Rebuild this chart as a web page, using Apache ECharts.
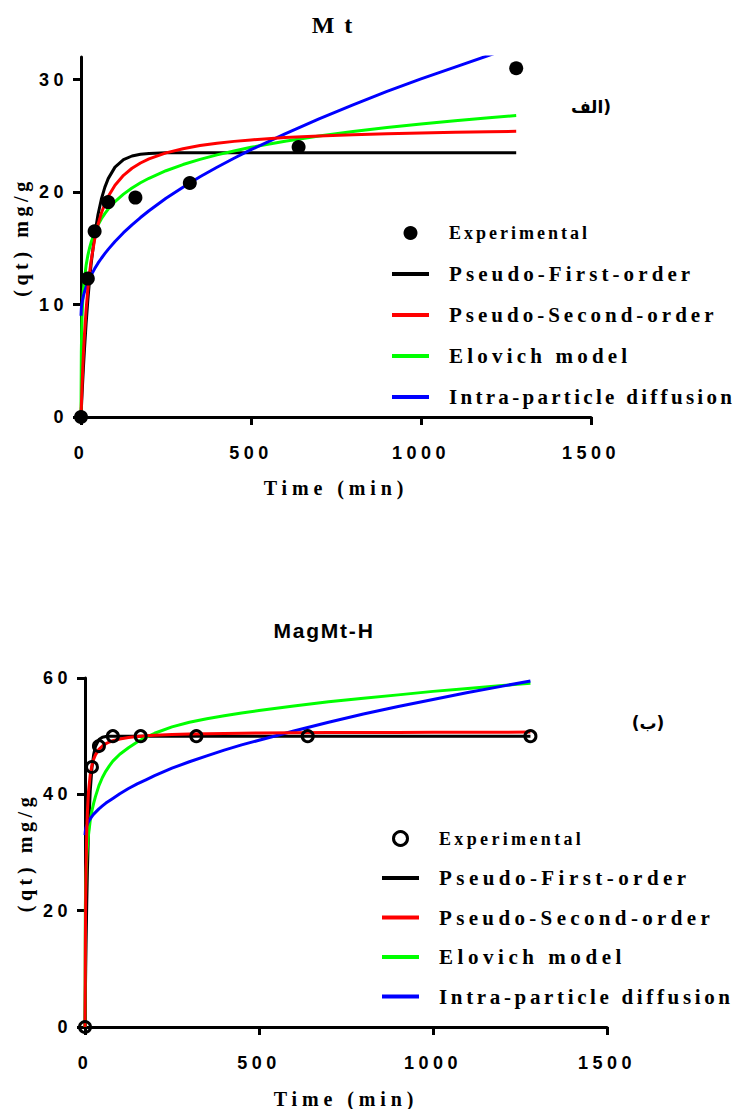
<!DOCTYPE html>
<html><head><meta charset="utf-8">
<script src="https://cdn.jsdelivr.net/npm/echarts@6/dist/echarts.min.js"></script>
<style>
html,body{margin:0;padding:0;background:#fff;width:735px;height:1109px;overflow:hidden}
#top{position:absolute;left:0;top:0;width:735px;height:560px}
#bot{position:absolute;left:0;top:560px;width:735px;height:549px}
</style>
</head><body><div id="top"></div><div id="bot"></div>
<script>
// ---------- data ----------
const seriesNames = ['Experimental','Pseudo-First-order','Pseudo-Second-order','Elovich model','Intra-particle diffusion'];
const xTicks = [0, 500, 1000, 1500];
const mtYTicks = [0, 10, 20, 30];
const magYTicks = [0, 20, 40, 60];

const expTime = [0, 20, 40, 80, 160, 320, 640, 1280];
const mtExp  = [0, 12.3, 16.5, 19.1, 19.5, 20.8, 24.0, 31.0];
const magExp = [0, 44.7, 48.3, 50.0, 50.0, 50.0, 50.0, 50.0];

const modelTime = [0, 1, 2, 3, 5, 7, 10, 15, 20, 25, 30, 40, 50, 60, 70, 80, 100, 125, 150, 175, 200, 250, 300, 350, 400, 450, 500, 600, 700, 800, 900, 1000, 1100, 1200, 1280];

const mtPFO = [0, 0.67, 1.33, 1.96, 3.17, 4.32, 5.91, 8.29, 10.34, 12.12, 13.65, 16.13, 17.99, 19.38, 20.41, 21.19, 22.21, 22.87, 23.2, 23.35, 23.43, 23.48, 23.5, 23.5, 23.5, 23.5, 23.5, 23.5, 23.5, 23.5, 23.5, 23.5, 23.5, 23.5, 23.5];
const mtPSO = [0, 0.97, 1.87, 2.7, 4.21, 5.54, 7.25, 9.54, 11.33, 12.76, 13.94, 15.76, 17.1, 18.13, 18.94, 19.6, 20.6, 21.48, 22.11, 22.58, 22.95, 23.48, 23.85, 24.13, 24.33, 24.5, 24.63, 24.84, 24.98, 25.09, 25.18, 25.25, 25.31, 25.36, 25.39];
const mtElovich = [0, 5.79, 7.65, 8.79, 10.25, 11.23, 12.28, 13.48, 14.34, 15.0, 15.55, 16.4, 17.07, 17.62, 18.08, 18.48, 19.15, 19.81, 20.36, 20.82, 21.22, 21.89, 22.44, 22.9, 23.3, 23.65, 23.97, 24.52, 24.98, 25.38, 25.73, 26.05, 26.33, 26.6, 26.79];
const mtIntra = [9.0, 9.66, 9.93, 10.14, 10.48, 10.75, 11.09, 11.56, 11.95, 12.3, 12.61, 13.17, 13.67, 14.11, 14.52, 14.9, 15.6, 16.38, 17.08, 17.73, 18.33, 19.44, 20.43, 21.35, 22.2, 23.0, 23.76, 25.17, 26.5, 27.75, 28.95, 30.05, 31.1, 32.15, 33.0];

const magPFO = [0, 5.25, 9.96, 14.16, 21.3, 27.01, 33.52, 40.54, 44.57, 46.88, 48.21, 49.41, 49.81, 49.94, 49.98, 50.0, 50.0, 50.0, 50.0, 50.0, 50.0, 50.0, 50.0, 50.0, 50.0, 50.0, 50.0, 50.0, 50.0, 50.0, 50.0, 50.0, 50.0, 50.0, 50.0];
const magPSO = [0, 14.2, 22.2, 27.33, 33.52, 37.13, 40.39, 43.35, 45.0, 46.05, 46.78, 47.73, 48.31, 48.71, 49.0, 49.21, 49.52, 49.77, 49.94, 50.06, 50.15, 50.28, 50.37, 50.43, 50.47, 50.51, 50.54, 50.58, 50.61, 50.64, 50.65, 50.67, 50.68, 50.69, 50.7];
const magElovich = [0, 20.6, 24.3, 26.5, 29.2, 31.0, 33.0, 35.5, 37.2, 38.5, 39.6, 41.5, 42.9, 44.0, 44.9, 45.7, 46.9, 48.0, 49.0, 49.8, 50.5, 51.6, 52.4, 53.0, 53.5, 54.0, 54.4, 55.2, 55.9, 56.5, 57.1, 57.7, 58.2, 58.7, 59.1];
const magIntra = [33.0, 33.7, 34.0, 34.3, 34.6, 34.9, 35.3, 35.8, 36.2, 36.6, 36.9, 37.5, 38.0, 38.5, 38.9, 39.3, 40.1, 41.0, 41.8, 42.5, 43.2, 44.5, 45.6, 46.6, 47.6, 48.5, 49.3, 50.9, 52.4, 53.8, 55.1, 56.3, 57.5, 58.6, 59.5];

// ---------- styles ----------
const lineColors = ['#000000', '#ff0000', '#00ff00', '#0000ff'];
const SERIF = 'Liberation Serif';
const SANS = 'Liberation Sans';
const spacingMap = {
  'Time (min)': 4.9, '(qt) mg/g': 4.6, 'Mt': 10, 'MagMt-H': 1.8,
  'Experimental': 3, 'Pseudo-First-order': 4.1, 'Pseudo-Second-order': 4.0,
  'Elovich model': 4.2, 'Intra-particle diffusion': 3.3
};
const legendTexts = seriesNames;

function pairs(xs, ys) { return xs.map((x, i) => [x, ys[i]]); }

function makeOption(cfg) {
  const lineData = [cfg.pfo, cfg.pso, cfg.elovich, cfg.intra];
  const series = [{
    name: seriesNames[0], type: 'scatter', data: pairs(expTime, cfg.exp),
    symbol: 'circle', symbolSize: cfg.hollow ? 11 : 14, clip: false, z: 5,
    itemStyle: cfg.hollow ? {color: 'rgba(0,0,0,0)', borderColor: '#000', borderWidth: 3, opacity: 1} : {color: '#000', opacity: 1}
  }];
  lineData.forEach((d, i) => series.push({
    name: seriesNames[i + 1], type: 'line', data: pairs(modelTime, d),
    showSymbol: false, smooth: false, clip: true, z: 2 + (i === 1 ? 1 : 0),
    color: lineColors[i], lineStyle: {color: lineColors[i], width: 3}, itemStyle: {color: lineColors[i]}
  }));
  const legendData = [{
    name: seriesNames[0], icon: 'circle',
    itemStyle: cfg.hollow ? {color: '#fff', borderColor: '#000', borderWidth: 3} : {color: '#000', borderWidth: 0},
    textStyle: {fontSize: 18}
  }];
  for (let i = 0; i < 4; i++) legendData.push({
    name: seriesNames[i + 1], icon: 'path://M0 0H37V4H0Z',
    itemStyle: {color: lineColors[i], borderWidth: 0}
  });
  const axisCommon = {
    type: 'value', splitLine: {show: false},
    axisLine: {show: true, onZero: false, lineStyle: {color: '#000', width: 3}},
    axisTick: {show: true, length: 8, lineStyle: {color: '#000', width: 3}},
    axisLabel: {color: '#000', fontFamily: SANS, fontWeight: 'bold', fontSize: 18, formatter: v => String(v)}
  };
  return {
    animation: false,
    title: [
      {text: cfg.title, left: cfg.titleX, top: cfg.titleY, textAlign: 'center', textVerticalAlign: 'middle', padding: 0,
       textStyle: {fontFamily: cfg.titleFont, fontWeight: 'bold', fontSize: cfg.titleSize, color: '#000'}},
      {text: cfg.tag, left: cfg.tagX, top: cfg.tagY, textAlign: 'center', textVerticalAlign: 'middle', padding: 0,
       textStyle: {fontFamily: 'DejaVu Sans', fontWeight: 'bold', fontSize: 17, color: '#000'}}
    ],
    grid: {left: cfg.grid[0], top: cfg.grid[1], width: cfg.grid[2], height: cfg.grid[3], containLabel: false, outerBoundsMode: 'none'},
    legend: {
      orient: 'vertical', left: cfg.legendX, top: cfg.legendY, padding: 0,
      itemWidth: 37, itemHeight: 14, itemGap: cfg.legendGap, selectedMode: false,
      textStyle: {fontFamily: SERIF, fontWeight: 'bold', fontSize: 21, color: '#000', lineHeight: 22, padding: [0, 0, 0, 15]},
      data: legendData
    },
    xAxis: Object.assign({}, axisCommon, {
      min: xTicks[0], max: xTicks[xTicks.length - 1], interval: xTicks[1] - xTicks[0],
      axisLabel: Object.assign({}, axisCommon.axisLabel, {margin: 27}),
      name: 'Time (min)', nameLocation: 'middle', nameGap: cfg.xNameGap,
      nameTextStyle: {fontFamily: SERIF, fontWeight: 'bold', fontSize: 20, color: '#000'}
    }),
    yAxis: Object.assign({}, axisCommon, {
      min: 0, max: cfg.yMax,
      axisTick: Object.assign({}, axisCommon.axisTick, {customValues: cfg.yTicks}),
      axisLabel: Object.assign({}, axisCommon.axisLabel, {margin: 13, customValues: cfg.yTicks}),
      name: '(qt) mg/g', nameLocation: 'middle', nameGap: 50,
      nameTextStyle: {fontFamily: SERIF, fontWeight: 'bold', fontSize: 20, color: '#000'}
    }),
    series: series
  };
}

function applySpacing(dom, legendExtra) {
  dom.querySelectorAll('text').forEach(t => {
    const s = t.textContent;
    if (spacingMap[s] != null) {
      const extra = legendTexts.indexOf(s) >= 0 ? legendExtra : 0;
      t.setAttribute('letter-spacing', spacingMap[s] + extra);
    } else if (/^\d+$/.test(s)) t.setAttribute('letter-spacing', 4.5);
  });
}

const cfgTop = {
  exp: mtExp, pfo: mtPFO, pso: mtPSO, elovich: mtElovich, intra: mtIntra, hollow: false,
  title: 'Mt', titleX: 337, titleY: 25, titleFont: SERIF, titleSize: 24,
  tag: 'الف)', tagX: 591, tagY: 107,
  grid: [81, 57, 510, 360], legendX: 392, legendY: 222, legendGap: 19,
  yMax: 32, yTicks: mtYTicks, xNameGap: 61, legendExtra: 0
};
const cfgBot = {
  exp: magExp, pfo: magPFO, pso: magPSO, elovich: magElovich, intra: magIntra, hollow: true,
  title: 'MagMt-H', titleX: 324, titleY: 70, titleFont: SANS, titleSize: 21,
  tag: '(ب)', tagX: 648, tagY: 163,
  grid: [85, 118, 522, 349], legendX: 382, legendY: 267.5, legendGap: 17.5,
  yMax: 60, yTicks: magYTicks, xNameGap: 62, legendExtra: 0.35
};

[['top', cfgTop], ['bot', cfgBot]].forEach(([id, cfg]) => {
  const dom = document.getElementById(id);
  const chart = echarts.init(dom, null, {renderer: 'svg'});
  chart.on('finished', () => applySpacing(dom, cfg.legendExtra));
  chart.setOption(makeOption(cfg));
  applySpacing(dom, cfg.legendExtra);
  setTimeout(() => applySpacing(dom, cfg.legendExtra), 50);
});
</script>
</body></html>
